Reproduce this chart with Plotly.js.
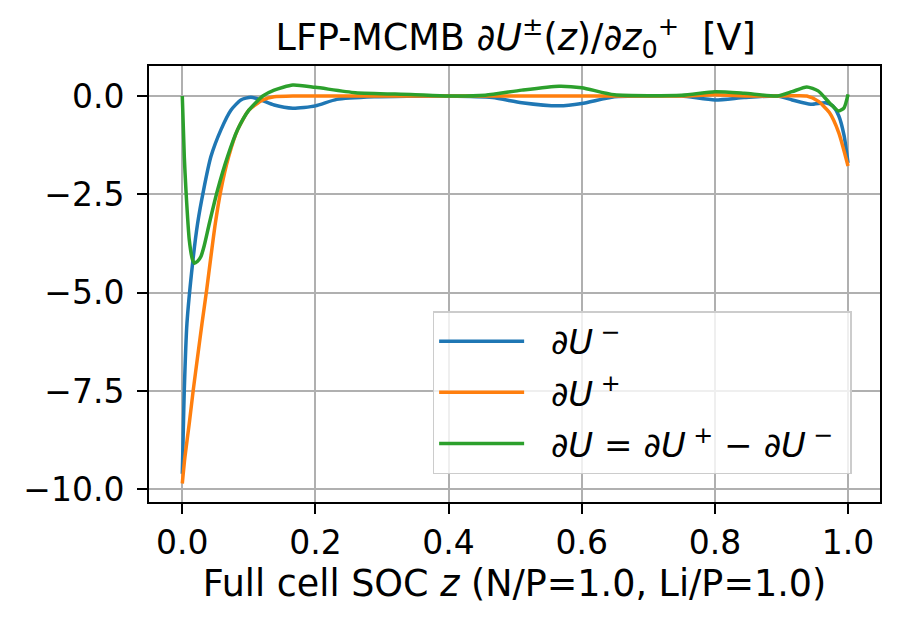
<!DOCTYPE html>
<html>
<head>
<meta charset="utf-8">
<script src="https://cdn.plot.ly/plotly-3.0.1.min.js"></script>
<style>html,body{margin:0;padding:0;background:#fff;}#chart{width:900px;height:621px;}</style>
</head>
<body>
<div id="chart"></div>
<script>
// ∂U− (negative electrode)
var zMinus = [0, 0.0015, 0.003, 0.007, 0.0155, 0.023, 0.032, 0.043, 0.058, 0.073, 0.088, 0.103, 0.118, 0.138, 0.166, 0.2, 0.232, 0.288, 0.34, 0.4, 0.466, 0.51, 0.566, 0.6, 0.649, 0.7, 0.75, 0.8, 0.844, 0.894, 0.916, 0.944, 0.966, 0.977, 0.986, 0.994, 1.0];
var uMinus = [-9.6, -8.5, -7.47, -5.78, -4.25, -3.24, -2.39, -1.54, -0.86, -0.36, -0.1, -0.03, -0.1, -0.23, -0.31, -0.25, -0.085, -0.02, -0.005, 0, -0.04, -0.17, -0.25, -0.19, -0.02, 0, 0, -0.1, -0.04, 0, -0.1, -0.21, -0.17, -0.25, -0.5, -1.0, -1.7];
// ∂U+ (positive electrode)
var zPlus = [0, 0.004, 0.0105, 0.0165, 0.023, 0.0296, 0.0366, 0.043, 0.0496, 0.058, 0.0697, 0.083, 0.1, 0.121, 0.138, 0.17, 0.25, 0.4, 0.6, 0.75, 0.8, 0.85, 0.9, 0.938, 0.955, 0.972, 0.986, 1.0];
var uPlus = [-9.85, -9.17, -8.32, -7.47, -6.63, -5.78, -4.93, -4.08, -3.24, -2.39, -1.54, -0.86, -0.36, -0.1, -0.02, 0, 0, 0, 0, 0, 0.03, 0, 0, 0, -0.13, -0.42, -0.93, -1.78];
// ∂U = ∂U+ − ∂U−
var zDiff = [0, 0.003, 0.0055, 0.0105, 0.0155, 0.018, 0.023, 0.028, 0.033, 0.0406, 0.053, 0.068, 0.083, 0.1, 0.121, 0.138, 0.166, 0.2, 0.26, 0.343, 0.4, 0.455, 0.51, 0.566, 0.6, 0.649, 0.75, 0.8, 0.844, 0.894, 0.916, 0.938, 0.955, 0.972, 0.986, 0.994, 1.0];
var uDiff = [0, -1.54, -2.39, -3.66, -4.17, -4.25, -4.2, -4.08, -3.8, -3.24, -2.39, -1.54, -0.86, -0.36, 0, 0.15, 0.28, 0.22, 0.085, 0.04, 0, 0.02, 0.15, 0.25, 0.21, 0.03, 0.02, 0.11, 0.07, 0, 0.11, 0.23, 0.13, -0.17, -0.38, -0.3, 0.04];

var xTicks = [0, 0.2, 0.4, 0.6, 0.8, 1.0];
var xTickText = ['0.0', '0.2', '0.4', '0.6', '0.8', '1.0'];
var yTicks = [-10, -7.5, -5, -2.5, 0];
var yTickText = ['\u221210.0', '\u22127.5', '\u22125.0', '\u22122.5', '0.0'];

var pad = '\u00a0\u00a0';
var names = [pad + '<i>\u2202U</i><sup> \u2212</sup>', pad + '<i>\u2202U</i><sup> +</sup>', pad + '<i>\u2202U</i> = <i>\u2202U</i><sup> +</sup> \u2212 <i>\u2202U</i><sup> \u2212</sup>\u00a0'];
var colors = ['#1f77b4', '#ff7f0e', '#2ca02c'];

var font = 'DejaVu Sans, sans-serif';
var traces = [
  {x: zMinus, y: uMinus, name: names[0], legendgroup: 'a', mode: 'lines', line: {color: colors[0], width: 3.5, shape: 'spline', smoothing: 0.6}},
  {x: zPlus, y: uPlus, name: names[1], legendgroup: 'b', mode: 'lines', line: {color: colors[1], width: 3.5, shape: 'spline', smoothing: 0.6}},
  {x: zDiff, y: uDiff, name: names[2], legendgroup: 'c', mode: 'lines', line: {color: colors[2], width: 3.5, shape: 'spline', smoothing: 0.6}}
];

var layout = {
  width: 900, height: 621,
  margin: {l: 149, r: 20, t: 66, b: 119},
  paper_bgcolor: '#fff', plot_bgcolor: '#fff',
  font: {family: font, color: '#000', size: 33},
  title: {text: 'LFP-MCMB <i>\u2202U</i><sup>\u00b1</sup>(<i>z</i>)/<i>\u2202z</i><sub>0</sub><sup>+</sup>  [V]', font: {family: font, size: 36.5, color: '#000'}, x: 0.573, xanchor: 'center', yref: 'container', y: 0.94, yanchor: 'middle'},
  xaxis: {
    range: [-0.05, 1.048], tickvals: xTicks, ticktext: xTickText,
    showgrid: true, gridcolor: '#b0b0b0', gridwidth: 2,
    zeroline: false, showline: true, linecolor: '#000', linewidth: 2, mirror: true,
    ticks: 'outside', ticklen: 10, tickwidth: 2, tickcolor: '#000',
    tickfont: {family: font, size: 33},
    title: {text: 'Full cell SOC <i>z</i> (N/P=1.0, Li/P=1.0)', font: {family: font, size: 36.5}, standoff: 7}
  },
  yaxis: {
    range: [-10.32, 0.763], tickvals: yTicks, ticktext: yTickText,
    showgrid: true, gridcolor: '#b0b0b0', gridwidth: 2,
    zeroline: false, showline: true, linecolor: '#000', linewidth: 2, mirror: true,
    ticks: 'outside', ticklen: 10, tickwidth: 2, tickcolor: '#000',
    tickfont: {family: font, size: 33}, ticklabelstandoff: 6
  },
  showlegend: true,
  legend: {
    x: 0.388, y: 0.438, xanchor: 'left', yanchor: 'top',
    bgcolor: 'rgba(255,255,255,0.8)', bordercolor: '#cccccc', borderwidth: 1.5,
    font: {family: font, size: 34}, traceorder: 'grouped', tracegroupgap: 4,
    itemwidth: 85
  }
};

Plotly.newPlot('chart', traces, layout, {displayModeBar: false, staticPlot: true});
</script>
</body>
</html>
